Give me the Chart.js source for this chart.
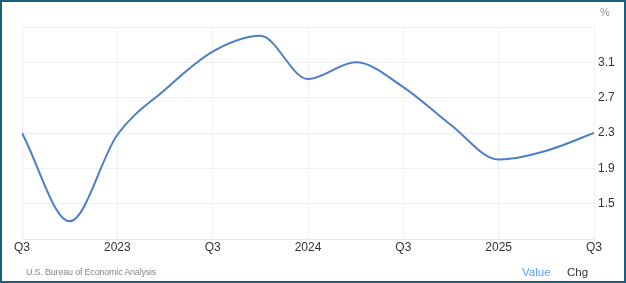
<!DOCTYPE html>
<html>
<head>
<meta charset="utf-8">
<script src="https://cdn.jsdelivr.net/npm/chart.js@4/dist/chart.umd.min.js"></script>
<style>
  body { margin: 0; background: #fff; font-family: "Liberation Sans", Arial, sans-serif; }
  #wrap { position: relative; width: 626px; height: 283px; overflow: hidden; }
  #chart { position: absolute; left: 0; top: 0; }
  #frame { position: absolute; left: 0; top: 0; width: 626px; height: 283px; box-sizing: border-box;
           border: 2px solid #1b5e7e; pointer-events: none; }
  .txt { position: absolute; white-space: nowrap; line-height: 1; }
  #unit { left: 600px; top: 7px; font-size: 11px; color: #999; }
  #source { left: 26px; top: 268px; font-size: 9px; letter-spacing: -0.2px; color: #888; }
  #value { left: 522px; top: 267px; font-size: 11.5px; color: #5a9cf2; }
  #chg { left: 567px; top: 267px; font-size: 11.5px; color: #333; }
</style>
</head>
<body>
<div id="wrap">
  <canvas id="chart" width="626" height="283"></canvas>
  <div id="unit" class="txt">%</div>
  <div id="source" class="txt">U.S. Bureau of Economic Analysis</div>
  <div id="value" class="txt">Value</div>
  <div id="chg" class="txt">Chg</div>
  <div id="frame"></div>
</div>
<script>
// quarterly values, Q3 2022 .. Q3 2025
const quarters = ['Q3 2022', 'Q4 2022', 'Q1 2023', 'Q2 2023', 'Q3 2023', 'Q4 2023', 'Q1 2024',
  'Q2 2024', 'Q3 2024', 'Q4 2024', 'Q1 2025', 'Q2 2025', 'Q3 2025'];
const values = [2.30, 1.30, 2.28, 2.79, 3.22, 3.40, 2.91, 3.10, 2.82, 2.39, 2.00, 2.10, 2.30];
const xTickLabels = ['Q3', '2023', 'Q3', '2024', 'Q3', '2025', 'Q3'];
const yTicks = [1.1, 1.5, 1.9, 2.3, 2.7, 3.1, 3.5];
const yLabelled = [1.5, 1.9, 2.3, 2.7, 3.1];

const points = values.map((v, i) => ({ x: i, y: v }));

const tickFont = { family: '"Liberation Sans", Arial, sans-serif', size: 12 };

new Chart(document.getElementById('chart'), {
  type: 'line',
  data: {
    datasets: [{
      label: 'Value',
      data: points,
      borderColor: '#4d7ec6',
      borderWidth: 2,
      pointRadius: 0,
      cubicInterpolationMode: 'monotone',
    }],
  },
  options: {
    responsive: false,
    animation: false,
    layout: { padding: { left: 22, top: 27, right: 2, bottom: 0 } },
    plugins: {
      legend: { display: false },
      tooltip: { enabled: false },
    },
    scales: {
      x: {
        type: 'linear',
        min: 0,
        max: quarters.length - 1,
        afterBuildTicks: (scale) => {
          scale.ticks = xTickLabels.map((_, i) => ({ value: i * 2 }));
        },
        afterFit: (scale) => { scale.height = 44; },
        ticks: {
          padding: 1,
          color: '#333',
          font: tickFont,
          maxRotation: 0,
          callback: (v) => xTickLabels[v / 2],
        },
        grid: { color: '#f0f0f0', drawTicks: false },
        border: { color: '#e8e8e8' },
      },
      y: {
        position: 'right',
        min: 1.1,
        max: 3.5,
        afterBuildTicks: (scale) => {
          scale.ticks = yTicks.map((v) => ({ value: v }));
        },
        afterFit: (scale) => { scale.width = 30; },
        ticks: {
          padding: 4,
          color: '#333',
          font: tickFont,
          callback: (v) => (yLabelled.some((t) => Math.abs(t - v) < 1e-6) ? v.toFixed(1) : ''),
        },
        grid: { color: '#f0f0f0', drawTicks: false },
        border: { display: false },
      },
    },
  },
});
</script>
</body>
</html>
